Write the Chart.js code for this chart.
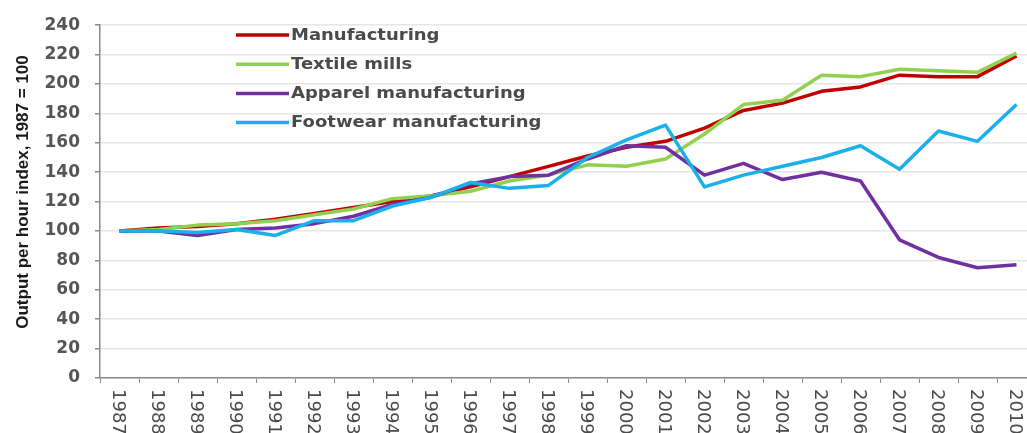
<!DOCTYPE html>
<html>
<head>
<meta charset="utf-8">
<script src="https://cdn.jsdelivr.net/npm/chart.js@4.4.0/dist/chart.umd.min.js"></script>
<style>
    html, body { margin: 0; padding: 0; background: #fff; overflow: hidden; }
    #wrap { width: 1036px; height: 433px; }
</style>
</head>
<body>
<div id="wrap"><canvas id="chart" width="1036" height="433"></canvas></div>
<script>
// Data
const years = ['1987', '1988', '1989', '1990', '1991', '1992', '1993', '1994', '1995', '1996', '1997', '1998',
    '1999', '2000', '2001', '2002', '2003', '2004', '2005', '2006', '2007', '2008', '2009', '2010'];
const manufacturing = [100, 102, 103, 105, 108, 112, 116, 120, 124, 130, 137, 144, 151, 157, 161, 170, 182, 187, 195, 198, 206, 205, 205, 219];
const textileMills = [100, 101, 104, 105, 107, 111, 115, 122, 124, 127, 134, 138, 145, 144, 149, 166, 186, 189, 206, 205, 210, 209, 208, 221];
const apparel = [100, 100, 97, 101, 102, 105, 110, 118, 123, 132, 137, 138, 149, 158, 157, 138, 146, 135, 140, 134, 94, 82, 75, 77];
const footwear = [100, 100, 99, 101, 97, 107, 107, 117, 123, 133, 129, 131, 150, 162, 172, 130, 138, 144, 150, 158, 142, 168, 161, 186];

const seriesNames = ['Manufacturing', 'Textile mills', 'Apparel manufacturing', 'Footwear manufacturing'];
const yTitle = 'Output per hour index, 1987 = 100';
const yMin = 0;
const yMax = 240;
const yStep = 20;

// Draws the rotated year labels, the axis title and the legend box
const customText = {
    id: 'customText',
    afterDraw(chart) {
        const ctx = chart.ctx;
        const xs = chart.scales.x;
        ctx.save();

        // x labels, reading top to bottom
        ctx.fillStyle = '#4a4a4a';
        ctx.font = '18px "DejaVu Sans"';
        ctx.textAlign = 'left';
        ctx.textBaseline = 'middle';
        years.forEach((yr, i) => {
            ctx.save();
            ctx.translate(xs.getPixelForValue(i) - 2, 389);
            ctx.rotate(Math.PI / 2);
            ctx.fillText(yr, 0, 0);
            ctx.restore();
        });

        // y axis title
        ctx.save();
        ctx.translate(23, 192);
        ctx.rotate(-Math.PI / 2);
        ctx.textAlign = 'center';
        ctx.font = 'bold 17px "Liberation Sans"';
        ctx.fillStyle = '#1a1a1a';
        ctx.fillText(yTitle, 0, 0);
        ctx.restore();

        // legend
        chart.data.datasets.forEach((ds, i) => {
            const y = 35 + i * 29.2;
            ctx.strokeStyle = ds.borderColor;
            ctx.lineWidth = 3.5;
            ctx.beginPath();
            ctx.moveTo(236, y);
            ctx.lineTo(289, y);
            ctx.stroke();
            ctx.save();
            ctx.translate(291, y + 1);
            ctx.scale(1.2, 1);
            ctx.font = 'bold 15px "DejaVu Sans"';
            ctx.textAlign = 'left';
            ctx.textBaseline = 'middle';
            ctx.fillStyle = '#4a4a4a';
            ctx.fillText(ds.label, 0, 0);
            ctx.restore();
        });

        ctx.restore();
    }
};

const lineStyle = { borderWidth: 3.5, pointRadius: 0, tension: 0, fill: false, borderJoinStyle: 'round' };

new Chart(document.getElementById('chart'), {
    type: 'line',
    data: {
        labels: years,
        datasets: [
            { label: seriesNames[0], data: manufacturing, borderColor: '#c00000', order: 3, ...lineStyle },
            { label: seriesNames[1], data: textileMills, borderColor: '#92d050', order: 2, ...lineStyle },
            { label: seriesNames[2], data: apparel, borderColor: '#7030a0', order: 1, ...lineStyle },
            { label: seriesNames[3], data: footwear, borderColor: '#1ab0ea', order: 0, ...lineStyle }
        ]
    },
    options: {
        responsive: false,
        animation: false,
        layout: { padding: { top: 23, left: 0, right: 0, bottom: 0 } },
        plugins: {
            legend: { display: false },
            tooltip: { enabled: false }
        },
        scales: {
            x: {
                offset: true,
                grid: {
                    offset: true,
                    drawOnChartArea: false,
                    drawTicks: true,
                    tickLength: 5,
                    tickColor: '#8a8a8a'
                },
                border: { color: '#8a8a8a', width: 1.5 },
                ticks: { display: false },
                afterFit(scale) { scale.height = 55; }
            },
            y: {
                min: yMin,
                max: yMax,
                ticks: {
                    stepSize: yStep,
                    color: '#555555',
                    padding: 15,
                    font: { family: '"DejaVu Sans"', size: 17, weight: 'bold' }
                },
                grid: {
                    color: '#e6e6e6',
                    lineWidth: 1.5,
                    tickLength: 5,
                    tickColor: '#8a8a8a'
                },
                border: { color: '#8a8a8a', width: 1.5 },
                afterFit(scale) { scale.width = 100; }
            }
        }
    },
    plugins: [customText]
});
</script>
</body>
</html>
